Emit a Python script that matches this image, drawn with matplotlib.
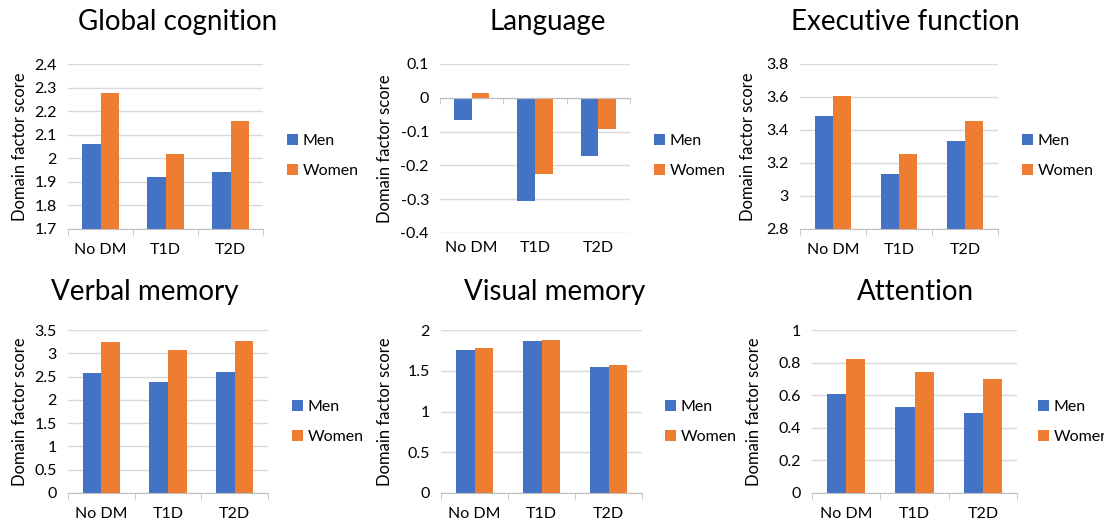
import matplotlib
matplotlib.use("Agg")
import matplotlib.pyplot as plt
import numpy as np
from matplotlib.ticker import FixedLocator

plt.rcParams['font.family'] = ['Lato', 'DejaVu Sans']
plt.rcParams['axes.unicode_minus'] = False

categories = ["No DM", "T1D", "T2D"]
series_names = ["Men", "Women"]

titles = ["Global cognition", "Language", "Executive function",
          "Verbal memory", "Visual memory", "Attention"]

global_men = [2.061, 1.919, 1.943]
global_women = [2.278, 2.017, 2.160]
language_men = [-0.065, -0.306, -0.173]
language_women = [0.015, -0.225, -0.092]
executive_men = [3.487, 3.131, 3.331]
executive_women = [3.608, 3.253, 3.453]
verbal_men = [2.586, 2.393, 2.600]
verbal_women = [3.250, 3.064, 3.264]
visual_men = [1.755, 1.861, 1.543]
visual_women = [1.780, 1.882, 1.567]
attention_men = [0.608, 0.529, 0.488]
attention_women = [0.820, 0.741, 0.700]

yticks_global = [1.7, 1.8, 1.9, 2.0, 2.1, 2.2, 2.3, 2.4]
yticks_language = [-0.4, -0.3, -0.2, -0.1, 0.0, 0.1]
yticks_executive = [2.8, 3.0, 3.2, 3.4, 3.6, 3.8]
yticks_verbal = [0, 0.5, 1, 1.5, 2, 2.5, 3, 3.5]
yticks_visual = [0, 0.5, 1, 1.5, 2]
yticks_attention = [0, 0.2, 0.4, 0.6, 0.8, 1]

men_data = [global_men, language_men, executive_men, verbal_men, visual_men, attention_men]
women_data = [global_women, language_women, executive_women, verbal_women, visual_women, attention_women]
yticks_all = [yticks_global, yticks_language, yticks_executive, yticks_verbal, yticks_visual, yticks_attention]

MEN_C = "#4472C4"
WOMEN_C = "#ED7D31"
GRID_C = "#D9D9D9"
AXIS_C = "#BFBFBF"
TEXT_C = "#000000"

W, H = 1104, 519
fig = plt.figure(figsize=(W / 100, H / 100), dpi=100)

# axes rectangles in pixels: (x0, x1, ytop, ybottom)
rects = [(68, 263, 64, 229), (440, 630, 64, 233), (800, 998, 64, 229),
         (68, 268, 330, 493), (441, 642, 330, 493), (812, 1017, 330, 493)]
title_pos = [(178, 22), (548, 22), (905, 22), (145, 292), (555, 292), (915, 292)]
legend_pos = [(287, 156), (654, 156), (1022, 156), (292, 422), (665, 422), (1038, 422)]
ylabel_x = [20, 385, 748, 20, 385, 754]

x = np.arange(len(categories))
bw = 0.28

for i in range(6):
    x0, x1, yt, yb = rects[i]
    ax = fig.add_axes([x0 / W, (H - yb) / H, (x1 - x0) / W, (yb - yt) / H])
    yt_list = yticks_all[i]
    b1 = ax.bar(x - bw / 2, men_data[i], bw, color=MEN_C, label=series_names[0], zorder=3)
    b2 = ax.bar(x + bw / 2, women_data[i], bw, color=WOMEN_C, label=series_names[1], zorder=3)
    lo, hi = yt_list[0], yt_list[-1]
    ax.set_ylim(lo, hi)
    ax.set_xlim(-0.5, len(categories) - 0.5)
    ax.set_yticks(yt_list)
    ax.set_yticklabels([f"{v:g}" for v in yt_list], fontsize=11.5, color=TEXT_C)
    ax.yaxis.grid(True, color=GRID_C, linewidth=1, zorder=0)
    ax.tick_params(axis='y', length=0, pad=8)
    for s in ['top', 'right', 'left']:
        ax.spines[s].set_visible(False)
    ax.spines['bottom'].set_color(AXIS_C)
    ax.spines['bottom'].set_zorder(4)
    ax.xaxis.set_minor_locator(FixedLocator(np.arange(-0.5, len(categories), 1.0)))
    ax.tick_params(axis='x', which='minor', length=4, color=AXIS_C, direction='out')
    if lo < 0 < hi:
        ax.spines['bottom'].set_position(('data', 0))
        ax.set_xticks(x)
        ax.set_xticklabels([])
        ax.tick_params(axis='x', which='major', length=0)
        for xi, lab in zip(x, categories):
            ax.text(xi, -0.05, lab, transform=ax.get_xaxis_transform(),
                    ha='center', va='top', fontsize=11.5, color=TEXT_C)
    else:
        ax.set_xticks(x)
        ax.set_xticklabels(categories, fontsize=11.5, color=TEXT_C)
        ax.tick_params(axis='x', which='major', length=0, pad=10)
    fig.text(ylabel_x[i] / W, (H - (yt + yb) / 2) / H, "Domain factor score",
             rotation=90, ha='center', va='center', fontsize=12, color=TEXT_C)
    tx, ty = title_pos[i]
    fig.text(tx / W, (H - ty) / H, titles[i], ha='center', va='center',
             fontsize=20, color=TEXT_C)
    lx, ly = legend_pos[i]
    ax.legend(handles=[b1, b2], loc='center left',
              bbox_to_anchor=(lx / W, (H - ly) / H), bbox_transform=fig.transFigure,
              frameon=False, fontsize=11.5, handlelength=0.7, handleheight=0.7,
              handletextpad=0.3, labelspacing=1.0, borderpad=0, borderaxespad=0)

fig.savefig("out.png", dpi=100)
